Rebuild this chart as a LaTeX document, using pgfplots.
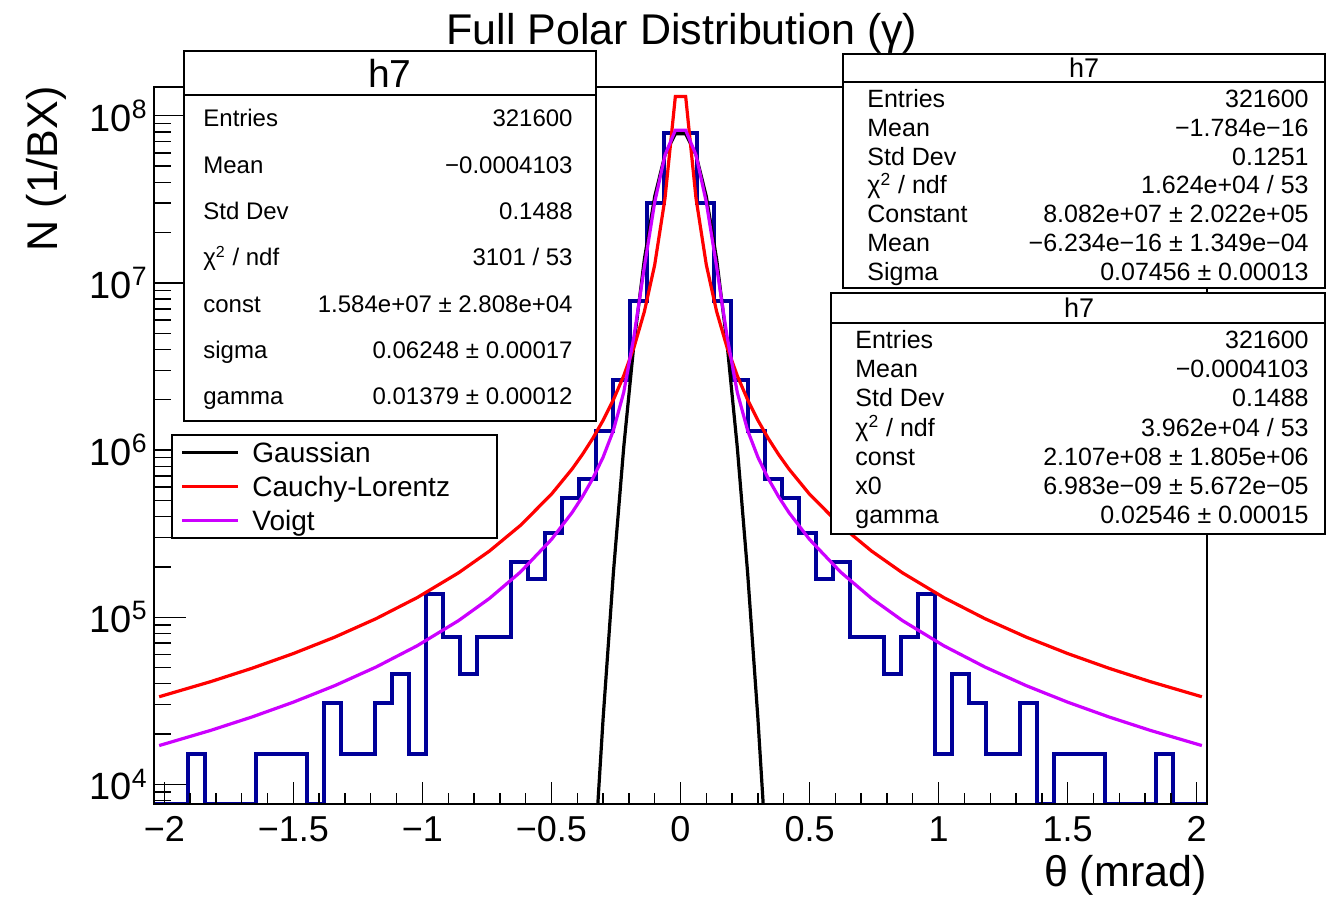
\documentclass[border=0pt]{standalone}
\usepackage{fontspec}
\setmainfont{Liberation Sans}
\usepackage{pgfplots}
\pgfplotsset{compat=1.18}
\definecolor{histblue}{RGB}{0,0,153}
\definecolor{voigtc}{RGB}{204,0,255}
\begin{document}
\begin{tikzpicture}
\path[use as bounding box] (0,0) rectangle (663pt,448pt);
% ---------- main axis: data + y ticks ----------
\begin{axis}[
  at={(77pt,46pt)}, anchor=south west, scale only axis,
  width=526.5pt, height=358.5pt,
  xmin=-2.04, xmax=2.04, ymode=log, ymin=7640, ymax=1.486e8,
  axis line style={line width=1pt},
  tick pos=left,
  xtick=\empty,
  ytick={1e4,1e5,1e6,1e7,1e8},
  yticklabels={{10\textsuperscript{4}},{10\textsuperscript{5}},{10\textsuperscript{6}},{10\textsuperscript{7}},{10\textsuperscript{8}}},
  minor ytick={8000,9000,2e4,3e4,4e4,5e4,6e4,7e4,8e4,9e4,2e5,3e5,4e5,5e5,6e5,7e5,8e5,9e5,2e6,3e6,4e6,5e6,6e6,7e6,8e6,9e6,2e7,3e7,4e7,5e7,6e7,7e7,8e7,9e7},
  major tick length=16pt, minor tick length=8.5pt,
  tick style={black, line width=0.7pt},
  yticklabel style={font=\fontsize{19}{19}\selectfont, inner sep=0pt, xshift=-3pt},
  clip=true,
]
\addplot[histblue, line width=2pt, const plot mark left] coordinates {
(-2.0400,7640) (-1.9742,7640) (-1.9084,15300) (-1.8426,7640) (-1.7768,7640) (-1.7110,7640)
(-1.6452,15300) (-1.5794,15300) (-1.5135,15300) (-1.4477,7640) (-1.3819,30600) (-1.3161,15300)
(-1.2503,15300) (-1.1845,30600) (-1.1187,45900) (-1.0529,15300) (-0.9871,137700) (-0.9213,76500)
(-0.8555,45900) (-0.7897,76500) (-0.7239,76500) (-0.6581,214200) (-0.5923,168300) (-0.5265,318000)
(-0.4606,517000) (-0.3948,670000) (-0.3290,1300000) (-0.2632,2620000) (-0.1974,7830000) (-0.1316,30100000)
(-0.0658,79100000) (0.0000,79100000) (0.0658,30100000) (0.1316,7830000) (0.1974,2620000) (0.2632,1300000)
(0.3290,670000) (0.3948,517000) (0.4606,318000) (0.5265,168300) (0.5923,214200) (0.6581,76500)
(0.7239,76500) (0.7897,45900) (0.8555,76500) (0.9213,137700) (0.9871,15300) (1.0529,45900)
(1.1187,30600) (1.1845,15300) (1.2503,15300) (1.3161,30600) (1.3819,7640) (1.4477,15300)
(1.5135,15300) (1.5794,15300) (1.6452,7640) (1.7110,7640) (1.7768,7640) (1.8426,15300)
(1.9084,7640) (1.9742,7640) (2.0400,7640)
};
% Gaussian
\addplot[black, line width=1.6pt] coordinates {
(-0.34,2466) (-0.30,24665) (-0.26,184950) (-0.22,1039900) (-0.18,4384800) (-0.14,13866000)
(-0.10,32877000) (-0.06,58464000) (-0.02,77964000) (0.02,77964000) (0.06,58464000) (0.10,32877000)
(0.14,13866000) (0.18,4384800) (0.22,1039900) (0.26,184950) (0.30,24665) (0.34,2466)
};
% Cauchy-Lorentz
\addplot[red, line width=1.6pt] coordinates {
(-2.02,33467) (-1.82,41225) (-1.66,49553) (-1.50,60684) (-1.34,76035) (-1.18,98043) (-1.02,131190)
(-0.86,184500) (-0.74,249120) (-0.62,354710) (-0.50,544900) (-0.42,771420) (-0.38,941610)
(-0.34,1174900) (-0.30,1506700) (-0.26,2001200) (-0.22,2784600) (-0.18,4132700) (-0.14,6745200)
(-0.10,12826000) (-0.06,32149000) (-0.02,130300000)
(0.02,130300000) (0.06,32149000) (0.10,12826000) (0.14,6745200) (0.18,4132700) (0.22,2784600)
(0.26,2001200) (0.30,1506700) (0.34,1174900) (0.38,941610) (0.42,771420) (0.50,544900)
(0.62,354710) (0.74,249120) (0.86,184500) (1.02,131190) (1.18,98043) (1.34,76035)
(1.50,60684) (1.66,49553) (1.82,41225) (2.02,33467)
};
% Voigt
\addplot[voigtc, line width=1.6pt] coordinates {
(-2.02,17088) (-1.82,21064) (-1.66,25339) (-1.50,31062) (-1.34,38973) (-1.18,50355) (-1.02,67584)
(-0.86,95516) (-0.74,129750) (-0.62,186600) (-0.50,292080) (-0.42,423360) (-0.38,526560)
(-0.34,675430) (-0.30,906070) (-0.26,1312800) (-0.22,2216800) (-0.18,4822100) (-0.14,12482000)
(-0.10,30358000) (-0.06,58326000) (-0.02,81934000)
(0.02,81934000) (0.06,58326000) (0.10,30358000) (0.14,12482000) (0.18,4822100) (0.22,2216800)
(0.26,1312800) (0.30,906070) (0.34,675430) (0.38,526560) (0.42,423360) (0.50,292080)
(0.62,186600) (0.74,129750) (0.86,95516) (1.02,67584) (1.18,50355) (1.34,38973)
(1.50,31062) (1.66,25339) (1.82,21064) (2.02,17088)
};
\end{axis}
% ---------- overlay axis: x ticks ----------
\begin{axis}[
  at={(77pt,46pt)}, anchor=south west, scale only axis,
  width=526.5pt, height=358.5pt,
  xmin=-2.04, xmax=2.04, ymode=log, ymin=7640, ymax=1.486e8,
  axis line style={line width=1pt},
  tick pos=left,
  ytick=\empty, minor ytick={},
  xtick={-2,-1.5,-1,-0.5,0,0.5,1,1.5,2},
  xticklabels={−2,−1.5,−1,−0.5,0,0.5,1,1.5,2},
  minor x tick num=4,
  major tick length=11pt, minor tick length=5.5pt,
  tick style={black, line width=0.7pt},
  xticklabel style={font=\fontsize{18}{18}\selectfont, inner sep=0pt, yshift=-6pt},
]
\end{axis}
% ---------- annotations (pixel coordinates, origin top-left) ----------
\begin{scope}[shift={(0pt,448pt)}, x=0.5pt, y=-0.5pt]
  \node[anchor=base, inner sep=0pt, font=\fontsize{21.5}{22}\selectfont] at (682,45) {Full Polar Distribution (γ)};
  \node[anchor=base east, inner sep=0pt, font=\fontsize{21.5}{22}\selectfont] at (1207,886) {θ (mrad)};
  \node[anchor=base east, rotate=90, inner sep=0pt, font=\fontsize{21.5}{22}\selectfont] at (57,86) {N (1/BX)};
  % Box 1 (Voigt)
  \draw[fill=white, line width=0.6pt] (184,51) rectangle (596,421);
  \draw[line width=0.6pt] (184,95) -- (596,95);
  \node[inner sep=0pt, font=\fontsize{19.5}{20}\selectfont] at (390,73) {h7};
  \begin{scope}[every node/.style={inner sep=0pt, font=\fontsize{12}{12}\selectfont}]
    \node[anchor=base west] at (203,127) {Entries};     \node[anchor=base east] at (573,127) {321600};
    \node[anchor=base west] at (203,173.3) {Mean};      \node[anchor=base east] at (573,173.3) {−0.0004103};
    \node[anchor=base west] at (203,219.6) {Std Dev};   \node[anchor=base east] at (573,219.6) {0.1488};
    \node[anchor=base west] at (203,265.9) {χ\textsuperscript{2} / ndf}; \node[anchor=base east] at (573,265.9) {3101 / 53};
    \node[anchor=base west] at (203,312.2) {const};     \node[anchor=base east] at (573,312.2) {1.584e+07 ± 2.808e+04};
    \node[anchor=base west] at (203,358.5) {sigma};     \node[anchor=base east] at (573,358.5) {0.06248 ± 0.00017};
    \node[anchor=base west] at (203,404.8) {gamma};     \node[anchor=base east] at (573,404.8) {0.01379 ± 0.00012};
  \end{scope}
  % Box 2 (Gaussian)
  \draw[fill=white, line width=0.6pt] (843,54) rectangle (1325,288);
  \draw[line width=0.6pt] (843,82) -- (1325,82);
  \draw[line width=1.2pt] (843,288) -- (1325,288);
  \node[inner sep=0pt, font=\fontsize{13.5}{14}\selectfont] at (1084,68) {h7};
  \begin{scope}[every node/.style={inner sep=0pt, font=\fontsize{12.5}{12.5}\selectfont}]
    \node[anchor=base west] at (867,107.3) {Entries};   \node[anchor=base east] at (1309,107.3) {321600};
    \node[anchor=base west] at (867,136.2) {Mean};      \node[anchor=base east] at (1309,136.2) {−1.784e−16};
    \node[anchor=base west] at (867,165.1) {Std Dev};   \node[anchor=base east] at (1309,165.1) {0.1251};
    \node[anchor=base west] at (867,194) {χ\textsuperscript{2} / ndf}; \node[anchor=base east] at (1309,194) {1.624e+04 / 53};
    \node[anchor=base west] at (867,222.9) {Constant};  \node[anchor=base east] at (1309,222.9) {8.082e+07 ± 2.022e+05};
    \node[anchor=base west] at (867,251.8) {Mean};      \node[anchor=base east] at (1309,251.8) {−6.234e−16 ± 1.349e−04};
    \node[anchor=base west] at (867,280.7) {Sigma};     \node[anchor=base east] at (1309,280.7) {0.07456 ± 0.00013};
  \end{scope}
  % Box 3 (Cauchy)
  \draw[fill=white, line width=0.6pt] (831,293) rectangle (1325,534);
  \draw[line width=0.6pt] (831,323) -- (1325,323);
  \node[inner sep=0pt, font=\fontsize{13.5}{14}\selectfont] at (1079,308) {h7};
  \begin{scope}[every node/.style={inner sep=0pt, font=\fontsize{12.5}{12.5}\selectfont}]
    \node[anchor=base west] at (855,348.5) {Entries};   \node[anchor=base east] at (1309,348.5) {321600};
    \node[anchor=base west] at (855,377.7) {Mean};      \node[anchor=base east] at (1309,377.7) {−0.0004103};
    \node[anchor=base west] at (855,406.9) {Std Dev};   \node[anchor=base east] at (1309,406.9) {0.1488};
    \node[anchor=base west] at (855,436.1) {χ\textsuperscript{2} / ndf}; \node[anchor=base east] at (1309,436.1) {3.962e+04 / 53};
    \node[anchor=base west] at (855,465.3) {const};     \node[anchor=base east] at (1309,465.3) {2.107e+08 ± 1.805e+06};
    \node[anchor=base west] at (855,494.5) {x0};        \node[anchor=base east] at (1309,494.5) {6.983e−09 ± 5.672e−05};
    \node[anchor=base west] at (855,523.7) {gamma};     \node[anchor=base east] at (1309,523.7) {0.02546 ± 0.00015};
  \end{scope}
  % Legend
  \draw[fill=white, line width=0.6pt] (172,435) rectangle (497,538);
  \draw[black, line width=1.5pt] (182,452) -- (238,452);
  \draw[red, line width=1.5pt] (182,486) -- (238,486);
  \draw[voigtc, line width=1.5pt] (182,520) -- (238,520);
  \begin{scope}[every node/.style={inner sep=0pt, anchor=base west, font=\fontsize{14}{14}\selectfont}]
    \node at (252,462) {Gaussian};
    \node at (252,496) {Cauchy-Lorentz};
    \node at (252,530) {Voigt};
  \end{scope}
\end{scope}
\end{tikzpicture}
\end{document}
